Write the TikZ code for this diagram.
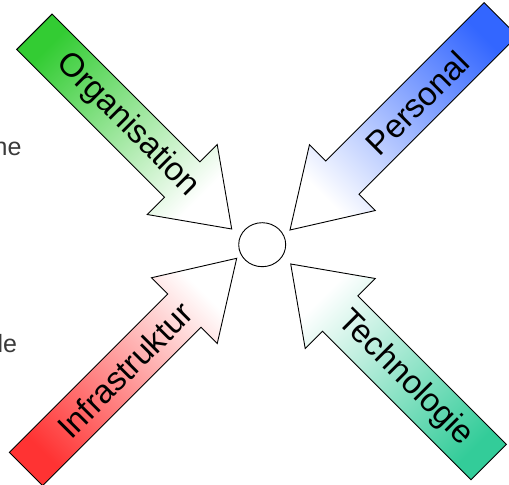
\documentclass[tikz,border=0pt]{standalone}
\usepackage{fontspec}
\setmainfont{Liberation Sans}
\usetikzlibrary{shapes.geometric}
\definecolor{orggreen}{HTML}{33CC33}
\definecolor{persblue}{HTML}{3366FF}
\definecolor{infrared}{HTML}{FF3333}
\definecolor{techmint}{HTML}{33CC99}
\definecolor{sidetext}{HTML}{3A3A3A}

\begin{document}
\begin{tikzpicture}[x=1bp, y=1bp, line width=0.9bp,
    factor label/.style={inner sep=0pt, font=\fontsize{33bp}{40bp}\selectfont},
    side label/.style={inner sep=0pt, anchor=base east, text=sidetext,
        font=\fontsize{25bp}{30bp}\selectfont}]

\useasboundingbox (0,0) rectangle (509,485);
\clip (0,0) rectangle (509,485);

% --- MACRO: DRAW FACTOR ARROW ---
% #1: tip position
% #2: direction the arrow points to (deg)
% #3: total length
% #4: shaft width
% #5: head width
% #6: head length
% #7: tail colour
% #8: label
% #9: label distance from tip
\newcommand{\drawFactor}[9]{
    \pgfmathsetmacro{\shadeAng}{#2+90}
    % keep the label readable from left to right
    \pgfmathsetmacro{\txtAng}{cos(#2)<0 ? #2+180 : #2}
    \begin{scope}[shift={#1}, rotate=#2]
        \shadedraw[top color=#7, bottom color=white, shading angle=\shadeAng]
            (0,0) -- (-#6,#5/2) -- (-#6,#4/2) -- (-#3,#4/2)
            -- (-#3,-#4/2) -- (-#6,-#4/2) -- (-#6,-#5/2) -- cycle;
        \node[factor label, rotate=\txtAng] (lbl-#8) at (-#9,0) {#8};
    \end{scope}
}

% --- CENTRE ---
\node[draw, ellipse, minimum width=47bp, minimum height=44bp, inner sep=0pt]
    (core) at (262.2,240.3) {};

% --- ARROWS ---
\drawFactor{(231.7,256)}{-45}{279}{50}{99}{70}{orggreen}{Organisation}{147}
\drawFactor{(290,255)}{-135}{298}{47}{93}{74}{persblue}{Personal}{180}
\drawFactor{(236.7,226.7)}{45}{298}{47}{93}{74}{infrared}{Infrastruktur}{158}
\drawFactor{(290.7,221)}{135}{280}{50}{99}{70}{techmint}{Technologie}{162}

% --- CUT-OFF TEXT ON THE LEFT ---
\node[side label] (frag-ne) at (22,329) {ne};
\node[side label] (frag-le) at (17.5,132) {le};

\end{tikzpicture}
\end{document}
